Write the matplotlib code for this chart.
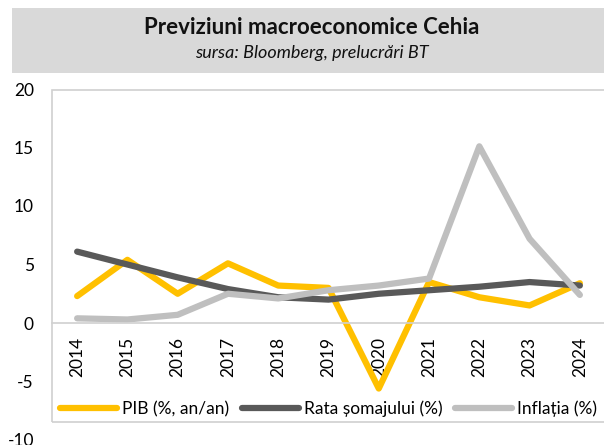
import matplotlib.pyplot as plt
from matplotlib.patches import Rectangle
from matplotlib.ticker import FuncFormatter

years = ['2014', '2015', '2016', '2017', '2018', '2019', '2020', '2021', '2022', '2023', '2024']
pib = [2.3, 5.4, 2.5, 5.1, 3.2, 3.0, -5.6, 3.5, 2.2, 1.5, 3.4]
somaj = [6.1, 5.0, 3.9, 2.9, 2.2, 2.0, 2.5, 2.8, 3.1, 3.5, 3.2]
inflatie = [0.4, 0.3, 0.7, 2.5, 2.1, 2.8, 3.2, 3.8, 15.1, 7.2, 2.4]
labels = ['PIB (%, an/an)', 'Rata șomajului (%)', 'Inflația (%)']

plt.rcParams['font.family'] = ['Lato', 'DejaVu Sans']

W, H = 604, 445
fig = plt.figure(figsize=(W / 100, H / 100), dpi=100)

# grey title band
fig.patches.append(Rectangle((12 / W, 1 - 73 / H), 592 / W, 65 / H,
                             transform=fig.transFigure, facecolor='#d9d9d9',
                             edgecolor='none'))
fig.text(312 / W, 1 - 28 / H, 'Previziuni macroeconomice Cehia', ha='center',
         va='center', fontsize=16, fontweight='bold', color='#111111')
fig.text(312 / W, 1 - 53 / H, 'sursa: Bloomberg, prelucrări BT', ha='center',
         va='center', fontsize=13, style='italic', color='#111111')

# plot area border
fig.patches.append(Rectangle((52 / W, 1 - 422 / H), 560 / W, 332 / H,
                             transform=fig.transFigure, facecolor='none',
                             edgecolor='#d0d0d0', linewidth=1.2))

ax = fig.add_axes([52 / W, 1 - 440 / H, 553 / W, 351 / H])
ax.patch.set_alpha(0)
x = range(len(years))
ax.plot(x, pib, color='#FFC000', lw=4.5, label=labels[0], solid_capstyle='round')
ax.plot(x, somaj, color='#595959', lw=4.5, label=labels[1], solid_capstyle='round')
ax.plot(x, inflatie, color='#BFBFBF', lw=4.5, label=labels[2], solid_capstyle='round')

ax.set_xlim(-0.5, len(years) - 0.5)
ax.set_ylim(-10, 20)
ax.set_yticks([-10, -5, 0, 5, 10, 15, 20])
ax.yaxis.set_major_formatter(FuncFormatter(lambda v, p: '%d' % v))
ax.set_xticks(list(x))
ax.set_xticklabels(years)
for s in ['top', 'right', 'left']:
    ax.spines[s].set_visible(False)
ax.spines['bottom'].set_position(('data', 0))
ax.spines['bottom'].set_color('#d0d0d0')
ax.spines['bottom'].set_linewidth(1.2)
ax.tick_params(axis='x', length=0, pad=10, labelrotation=90, labelsize=12.5)
ax.tick_params(axis='y', length=0, pad=13, labelsize=12.5)

leg = ax.legend(loc='lower center', bbox_to_anchor=(0.5, 0.02), ncol=3,
                frameon=False, fontsize=12.5, handlelength=3.3,
                handletextpad=0.3, columnspacing=0.7)

fig.savefig('out.png', dpi=100)
